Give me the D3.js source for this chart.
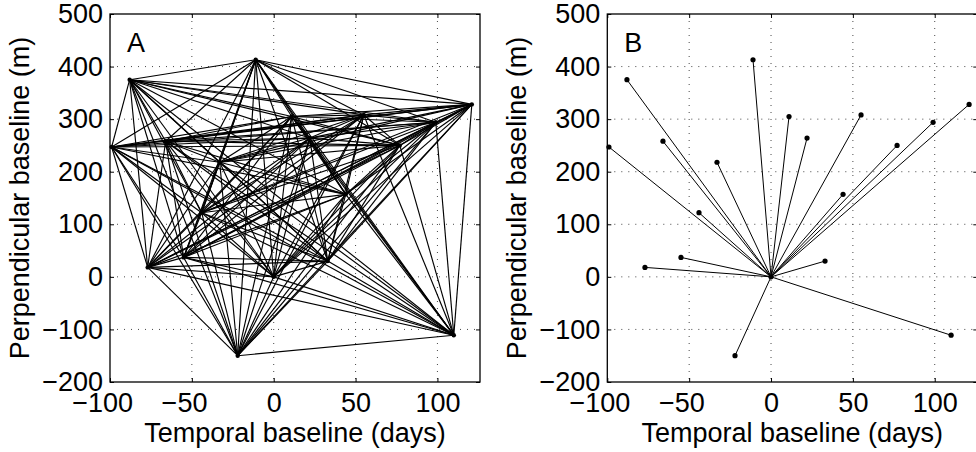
<!DOCTYPE html>
<html>
<head>
<meta charset="utf-8">
<script src="https://cdn.jsdelivr.net/npm/d3@7"></script>
<style>
  html, body { margin: 0; padding: 0; background: #fff; }
  svg text { font-family: "Liberation Sans", Arial, Helvetica, sans-serif; fill: #000; }
</style>
</head>
<body>
<svg id="chart" width="976" height="452"></svg>
<script>
// Acquisition baselines relative to the master scene (0 days, 0 m)
const temporalDays = [-99, -88, -77, -66, -55, -44, -33, -22, -11, 0, 11, 22, 33, 44, 55, 77, 99, 110, 121];
const perpBaseline = [247, 375, 18, 258, 37, 122, 218, -150, 413, 0, 305, 264, 30, 157, 308, 250, 294, -111, 328];
const masterIndex = 9;

const xTicks = [-100, -50, 0, 50, 100];
const yTicks = [-200, -100, 0, 100, 200, 300, 400, 500];
const xDomain = [-100, 126];
const yDomain = [-200, 500];
const panelLetters = ["A", "B"];
const xLabelText = "Temporal baseline (days)";
const yLabelText = "Perpendicular baseline (m)";

const points = temporalDays.map((t, i) => ({ t, b: perpBaseline[i] }));

// every interferometric pair (small-baseline network)
const allPairs = [];
for (let i = 0; i < points.length; i++)
  for (let j = i + 1; j < points.length; j++) allPairs.push([points[i], points[j]]);
// single-master network
const masterPairs = points.filter((p, i) => i !== masterIndex).map(p => [points[masterIndex], p]);

const svg = d3.select("#chart");
const FS = 27;

const panels = [
  { left: 110, top: 14, width: 370, height: 368, pairs: allPairs, r: 2.2, lw: 1.15 },
  { left: 607.3, top: 14, width: 370, height: 368, pairs: masterPairs, r: 2.6, lw: 1 }
];

panels.forEach((p, k) => {
  const x = d3.scaleLinear().domain(xDomain).range([p.left, p.left + p.width]);
  const y = d3.scaleLinear().domain(yDomain).range([p.top + p.height, p.top]);
  const g = svg.append("g");

  // dotted grid
  g.append("g").selectAll("line.gx").data(xTicks.filter(v => v > xDomain[0])).join("line")
    .attr("x1", d => x(d)).attr("x2", d => x(d))
    .attr("y1", p.top).attr("y2", p.top + p.height)
    .attr("stroke", "#333").attr("stroke-width", 0.9).attr("stroke-dasharray", "1,6");
  g.append("g").selectAll("line.gy").data(yTicks.filter(v => v > yDomain[0] && v < yDomain[1])).join("line")
    .attr("x1", p.left).attr("x2", p.left + p.width)
    .attr("y1", d => y(d)).attr("y2", d => y(d))
    .attr("stroke", "#333").attr("stroke-width", 0.9).attr("stroke-dasharray", "1,6");

  // baseline pairs
  g.append("g").selectAll("line").data(p.pairs).join("line")
    .attr("x1", d => x(d[0].t)).attr("y1", d => y(d[0].b))
    .attr("x2", d => x(d[1].t)).attr("y2", d => y(d[1].b))
    .attr("stroke", "#000").attr("stroke-width", p.lw);

  // acquisitions
  g.append("g").selectAll("circle").data(points).join("circle")
    .attr("cx", d => x(d.t)).attr("cy", d => y(d.b)).attr("r", p.r).attr("fill", "#000");

  // axes with inward ticks
  const xa = g.append("g").attr("transform", `translate(0,${p.top + p.height})`)
    .call(d3.axisBottom(x).tickValues(xTicks).tickSizeInner(-4).tickSizeOuter(0).tickPadding(11));
  const ya = g.append("g").attr("transform", `translate(${p.left},0)`)
    .call(d3.axisLeft(y).tickValues(yTicks).tickSizeInner(-4).tickSizeOuter(0).tickPadding(7));
  const xt = g.append("g").attr("transform", `translate(0,${p.top})`)
    .call(d3.axisTop(x).tickValues(xTicks).tickSizeInner(-4).tickSizeOuter(0).tickFormat(""));
  const yr = g.append("g").attr("transform", `translate(${p.left + p.width},0)`)
    .call(d3.axisRight(y).tickValues(yTicks).tickSizeInner(-4).tickSizeOuter(0).tickFormat(""));
  [xa, ya, xt, yr].forEach(a => {
    a.select(".domain").remove();
    a.selectAll("line").attr("stroke", "#000");
    a.selectAll("text").attr("font-size", FS).attr("font-family", null);
  });
  // negative labels: keep the digits centred under the tick
  xa.selectAll("text").attr("dx", d => d < 0 ? -FS * 0.29 : 0);

  // frame
  g.append("rect").attr("x", p.left).attr("y", p.top)
    .attr("width", p.width).attr("height", p.height)
    .attr("fill", "none").attr("stroke", "#000").attr("stroke-width", 1.3);

  // axis titles
  g.append("text").attr("x", p.left + p.width / 2).attr("y", p.top + p.height + 60)
    .attr("text-anchor", "middle").attr("font-size", FS).text(xLabelText);
  g.append("text")
    .attr("transform", `translate(${p.left - 81},${p.top + p.height / 2}) rotate(-90)`)
    .attr("text-anchor", "middle").attr("font-size", FS).text(yLabelText);

  // panel letter
  g.append("text").attr("x", p.left + 17).attr("y", p.top + 38)
    .attr("font-size", FS).text(panelLetters[k]);
});
</script>
</body>
</html>
